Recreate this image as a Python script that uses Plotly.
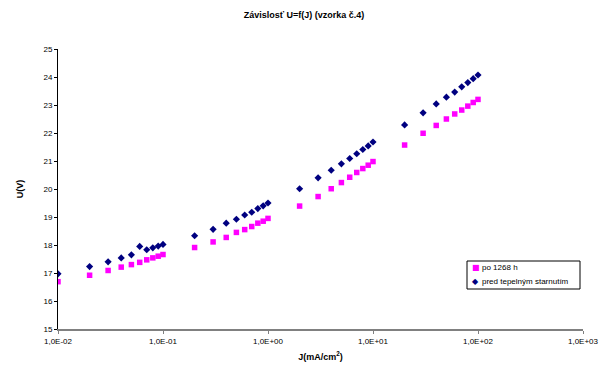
import plotly.graph_objects as go

J = [0.01, 0.02, 0.03, 0.04, 0.05, 0.06, 0.07, 0.08, 0.09, 0.1,
     0.2, 0.3, 0.4, 0.5, 0.6, 0.7, 0.8, 0.9, 1.0,
     2, 3, 4, 5, 6, 7, 8, 9, 10,
     20, 30, 40, 50, 60, 70, 80, 90, 100]

U_po = [16.69, 16.92, 17.09, 17.21, 17.30, 17.38, 17.47, 17.54, 17.60, 17.66,
        17.91, 18.11, 18.27, 18.45, 18.55, 18.66, 18.78, 18.85, 18.95,
        19.39, 19.73, 20.01, 20.23, 20.42, 20.59, 20.73, 20.85, 20.98,
        21.57, 21.99, 22.27, 22.50, 22.68, 22.82, 22.96, 23.09, 23.20]

U_pred = [16.97, 17.23, 17.40, 17.54, 17.65, 17.95, 17.83, 17.90, 17.96, 18.02,
          18.33, 18.56, 18.78, 18.92, 19.07, 19.17, 19.30, 19.40, 19.50,
          20.01, 20.40, 20.67, 20.90, 21.09, 21.26, 21.41, 21.54, 21.68,
          22.29, 22.72, 23.04, 23.28, 23.46, 23.65, 23.80, 23.94, 24.07]

series_names = ["po 1268 h", "pred tepelným starnutím"]
x_tickvals = [0.01, 0.1, 1, 10, 100, 1000]
x_ticktext = ["1,0E-02", "1,0E-01", "1,0E+00", "1,0E+01", "1,0E+02", "1,0E+03"]
y_tickvals = list(range(15, 26))

FONT = "Liberation Sans, Arial, sans-serif"
W, H = 608, 367
L, R, T, B = 58, 25, 49, 38
PW, PH = W - L - R, H - T - B


def px_x(x):
    return (x - L) / PW


def px_y(y):
    return (H - B - y) / PH


fig = go.Figure()
fig.add_trace(go.Scatter(
    x=J, y=U_po, mode="markers", name=series_names[0],
    marker=dict(symbol="square", size=5.5, color="#FF00FF"),
))
fig.add_trace(go.Scatter(
    x=J, y=U_pred, mode="markers", name=series_names[1],
    marker=dict(symbol="diamond", size=5.5, color="#000080"),
))

# custom compact legend (Excel style)
fig.add_shape(type="rect", xref="paper", yref="paper",
              x0=px_x(467), x1=px_x(580), y0=px_y(289), y1=px_y(261),
              line=dict(color="black", width=1), fillcolor="white", layer="above")
leg_y = [267.5, 281.5]
leg_sym = ["■", "◆"]
leg_col = ["#FF00FF", "#000080"]
for i in range(2):
    fig.add_annotation(xref="paper", yref="paper", x=px_x(475.5), y=px_y(leg_y[i]),
                       xanchor="center", yanchor="middle", showarrow=False,
                       text=leg_sym[i], font=dict(size=8, color=leg_col[i], family="DejaVu Sans"))
    fig.add_annotation(xref="paper", yref="paper", x=px_x(479.5), y=px_y(leg_y[i]),
                       xanchor="left", yanchor="middle", showarrow=False,
                       text=series_names[i], font=dict(size=8, color="black"))

fig.update_layout(
    width=W, height=H,
    margin=dict(l=L, r=R, t=T, b=B),
    paper_bgcolor="white", plot_bgcolor="white",
    font=dict(family=FONT, size=8, color="black"),
    title=dict(text="<b>Závislosť U=f(J) (vzorka č.4)</b>", x=0.5, xanchor="center",
               y=1 - 15 / H, yanchor="middle", font=dict(size=9)),
    showlegend=False,
    hovermode=False,
    xaxis=dict(type="log", range=[-2, 3], tickvals=x_tickvals, ticktext=x_ticktext,
               showgrid=False, zeroline=False, showline=True, linecolor="#808080",
               linewidth=2, ticks="outside", ticklen=3, tickcolor="#808080",
               tickfont=dict(size=8), automargin=False,
               title=dict(text="<b>J(mA/cm<sup>2</sup>)</b>", font=dict(size=9), standoff=9)),
    yaxis=dict(range=[15, 25], tickvals=y_tickvals, showgrid=False, zeroline=False,
               showline=True, linecolor="black", linewidth=1, ticks="outside",
               ticklen=3, tickcolor="black", tickfont=dict(size=8), automargin=False,
               title=dict(text="<b>U(V)</b>", font=dict(size=9), standoff=18)),
)

fig.write_html("out.html", config={"displayModeBar": False},
               post_script="document.body.style.margin='0';document.body.style.padding='0';")
